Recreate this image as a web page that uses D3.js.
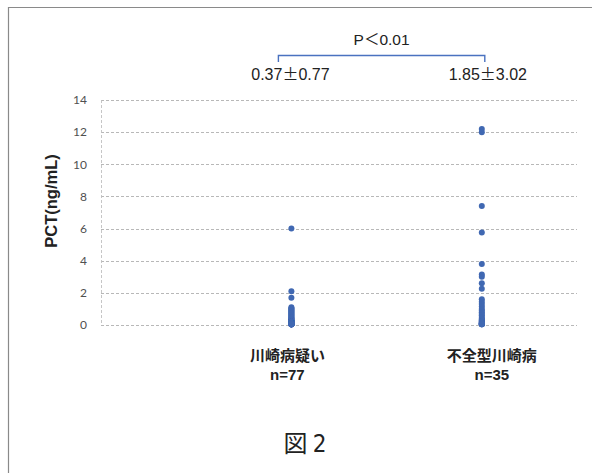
<!DOCTYPE html>
<html>
<head>
<meta charset="utf-8">
<script src="https://cdn.jsdelivr.net/npm/d3@7"></script>
<style>
  html, body { margin: 0; padding: 0; background: #fff; }
  svg { display: block; }
</style>
</head>
<body>
<svg id="chart" width="592" height="473"></svg>
<script>
// Groups and their labels
const groups = ["川崎病疑い", "不全型川崎病"];
const groupN = ["n=77", "n=35"];
const groupMean = ["0.37", "1.85"];
const groupSD = ["0.77", "3.02"];
const pLabel = "P＜0.01";
const yTicks = [0, 2, 4, 6, 8, 10, 12, 14];

// PCT values (ng/mL), suspected Kawasaki disease, n=77
const pctSuspected = [
  6.0, 2.1, 1.7,
  1.1, 1.05, 1.0, 0.95, 0.9, 0.85, 0.8, 0.75, 0.7, 0.65,
  0.6, 0.55, 0.5, 0.45, 0.4, 0.4, 0.35, 0.3, 0.3, 0.3,
  0.2, 0.2, 0.2, 0.2, 0.2, 0.2, 0.2, 0.2, 0.2, 0.2, 0.2, 0.2, 0.2, 0.2,
  0.1, 0.1, 0.1, 0.1, 0.1, 0.1, 0.1, 0.1, 0.1, 0.1, 0.1, 0.1, 0.1,
  0.1, 0.1, 0.1, 0.1, 0.1, 0.1, 0.1, 0.1, 0.1, 0.1, 0.1, 0.1,
  0.05, 0.05, 0.05, 0.05, 0.05, 0.05, 0.05, 0.05, 0.05, 0.05,
  0.05, 0.05, 0.05, 0.05, 0.05
];

// PCT values (ng/mL), incomplete Kawasaki disease, n=35
const pctIncomplete = [
  12.2, 12.0, 7.4, 5.75, 3.8, 3.15, 3.0, 2.6, 2.25,
  1.6, 1.45, 1.3, 1.15, 1.0, 0.9, 0.8, 0.7, 0.6, 0.5, 0.4,
  0.35, 0.3, 0.25, 0.2, 0.2, 0.15, 0.15, 0.1, 0.1, 0.1, 0.1,
  0.05, 0.05, 0.05, 0.05
];

const series = [pctSuspected, pctIncomplete];

const svg = d3.select("#chart");
const W = 592, H = 473;
const plot = { left: 101, right: 577, top: 100, bottom: 325 };

const x = d3.scaleLinear().domain([0, 2.5]).range([plot.left, plot.right]);
const y = d3.scaleLinear().domain([0, 14]).range([plot.bottom, plot.top]);

const blue = "#4068b2";
const latin = "'Liberation Sans', Arial, sans-serif";
const cjk = "'Liberation Sans', 'Noto Sans CJK JP', sans-serif";

// Page frame (top and left edges)
svg.append("path")
  .attr("d", `M8.5,${H} L8.5,7.5 L${W},7.5`)
  .attr("fill", "none")
  .attr("stroke", "#8a8a8a")
  .attr("stroke-width", 1.2);

// Horizontal dashed gridlines
svg.append("g")
  .selectAll("line")
  .data(yTicks)
  .join("line")
  .attr("x1", plot.left)
  .attr("x2", plot.right)
  .attr("y1", d => Math.round(y(d)) + 0.5)
  .attr("y2", d => Math.round(y(d)) + 0.5)
  .attr("stroke", "#b0b0b0")
  .attr("stroke-width", 0.9)
  .attr("stroke-dasharray", "3,2");

// Vertical dashed axis line
svg.append("line")
  .attr("x1", plot.left + 0.5).attr("x2", plot.left + 0.5)
  .attr("y1", y(14)).attr("y2", y(0))
  .attr("stroke", "#c0c0c0")
  .attr("stroke-width", 0.9)
  .attr("stroke-dasharray", "3,2");

// Y axis tick labels
const yAxis = d3.axisLeft(y).tickValues(yTicks).tickSize(0).tickPadding(14);
const gy = svg.append("g")
  .attr("transform", `translate(${plot.left},0)`)
  .call(yAxis);
gy.select(".domain").remove();
gy.selectAll("text")
  .attr("font-family", "Lato, 'Open Sans', sans-serif")
  .attr("font-size", 12)
  .attr("fill", "#505050");

// Y axis title
svg.append("text")
  .attr("transform", `translate(57,201) rotate(-90)`)
  .attr("text-anchor", "middle")
  .attr("font-family", latin)
  .attr("font-weight", "bold")
  .attr("font-size", 16.5)
  .attr("fill", "#222")
  .text("PCT(ng/mL)");

// Data points
series.forEach((vals, i) => {
  svg.append("g")
    .selectAll("circle")
    .data(vals)
    .join("circle")
    .attr("cx", x(i + 1))
    .attr("cy", d => y(d))
    .attr("r", 3)
    .attr("fill", blue);
});

// Category labels below the plot
const labelShift = [-4, 10];
groups.forEach((g, i) => {
  const cx = x(i + 1) + labelShift[i];
  svg.append("text")
    .attr("x", cx).attr("y", 361)
    .attr("text-anchor", "middle")
    .attr("font-family", cjk)
    .attr("font-weight", "bold")
    .attr("font-size", 15)
    .attr("fill", "#222")
    .text(g);
  svg.append("text")
    .attr("x", cx).attr("y", 380)
    .attr("text-anchor", "middle")
    .attr("font-family", latin)
    .attr("font-weight", "bold")
    .attr("font-size", 15)
    .attr("fill", "#222")
    .text(groupN[i]);
});

// Mean ± SD labels above the plot (full-width ± sign)
const statShift = [-1, 6];
groupMean.forEach((m, i) => {
  const t = svg.append("text")
    .attr("x", x(i + 1) + statShift[i]).attr("y", 80)
    .attr("text-anchor", "middle")
    .attr("font-family", latin)
    .attr("font-size", 16)
    .attr("fill", "#222");
  t.append("tspan").text(m);
  t.append("tspan").attr("font-family", "'Noto Sans CJK JP', sans-serif").text("±");
  t.append("tspan").text(groupSD[i]);
});

// Significance bracket
const bx1 = x(1) - 13, bx2 = x(2) + 3;
svg.append("path")
  .attr("d", `M${bx1},62 L${bx1},55.5 L${bx2},55.5 L${bx2},62`)
  .attr("fill", "none")
  .attr("stroke", "#4a72c0")
  .attr("stroke-width", 1.4);

svg.append("text")
  .attr("x", (bx1 + bx2) / 2).attr("y", 45)
  .attr("text-anchor", "middle")
  .attr("font-family", cjk)
  .attr("font-size", 15.5)
  .attr("fill", "#222")
  .text(pLabel);

// Figure caption
const cap = svg.append("text")
  .attr("x", 305).attr("y", 452)
  .attr("text-anchor", "middle")
  .attr("font-size", 24)
  .attr("fill", "#222");
cap.append("tspan")
  .attr("font-family", "'Noto Sans CJK JP', sans-serif")
  .text("図 ");
cap.append("tspan")
  .attr("font-family", "'Liberation Sans Narrow', 'DejaVu Sans Condensed', sans-serif")
  .text("2");
</script>
</body>
</html>
